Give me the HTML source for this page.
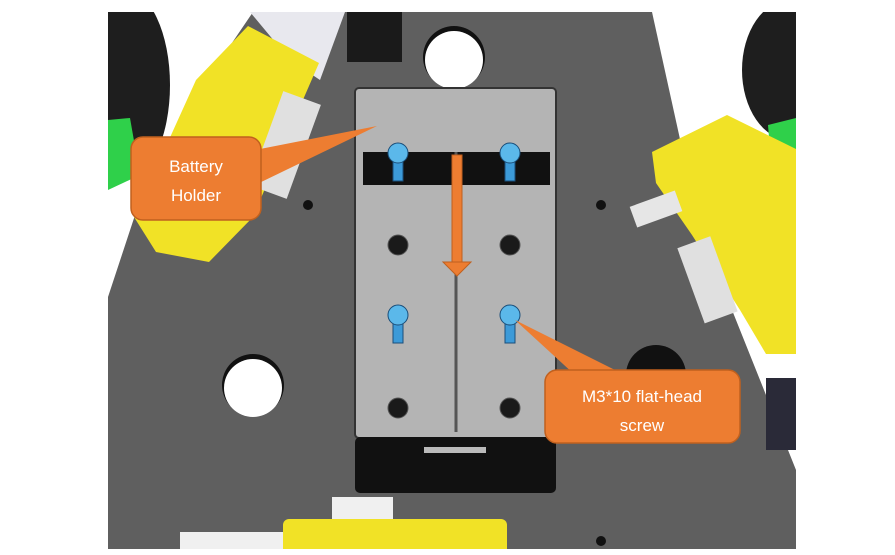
<!DOCTYPE html>
<html><head><meta charset="utf-8"><style>
html,body{margin:0;padding:0;background:#fff;width:895px;height:555px;overflow:hidden}
svg{display:block}
text{font-family:"Liberation Sans","Noto Sans CJK SC",sans-serif}
</style></head><body>
<svg width="895" height="555" viewBox="0 0 895 555">
<defs><clipPath id="frame"><rect x="108" y="12" width="688" height="537"/></clipPath></defs>
<rect x="0" y="0" width="895" height="555" fill="#fff"/>
<g clip-path="url(#frame)">
<g>
<rect x="108" y="12" width="688" height="537" fill="#5f5f5f"/>
<polygon points="108,12 253,12 200,90 140,200 108,297" fill="#fff"/>
<polygon points="652,12 796,12 796,470 760,380 700,230" fill="#fff"/>
</g>
<g>
<circle cx="454" cy="57" r="31" fill="#111"/><circle cx="454" cy="60" r="29" fill="#fff"/>
<circle cx="253" cy="385" r="31" fill="#111"/><circle cx="253" cy="388" r="29" fill="#fff"/>
<circle cx="656" cy="375" r="30" fill="#111"/>
<circle cx="308" cy="205" r="5" fill="#111"/><circle cx="601" cy="205" r="5" fill="#111"/><circle cx="601" cy="541" r="5" fill="#111"/>
</g>
<g>
<ellipse cx="125" cy="85" rx="45" ry="95" fill="#1e1e1e"/>
<polygon points="108,120 130,118 140,175 108,190" fill="#2fd04a"/>
</g>
<g>
<ellipse cx="790" cy="70" rx="48" ry="70" fill="#1e1e1e"/>
<polygon points="768,125 796,118 796,170 772,175" fill="#2fd04a"/>
</g>
<polygon points="250,12 345,12 320,80 290,60" fill="#e8e8ee"/>
<rect x="347" y="12" width="55" height="50" fill="#1a1a1a"/>
<polygon points="248,26 319,63 292,125 253,217 209,262 156,252 134,217 196,80" fill="#f1e226"/>
<rect x="265" y="95" width="40" height="100" fill="#e0e0e0" transform="rotate(20 285 145)"/>
<polygon points="652,152 727,115 796,149 796,354 766,354 740,310 692,235 656,183" fill="#f1e226"/>
<rect x="690" y="240" width="35" height="80" fill="#e0e0e0" transform="rotate(-20 707 280)"/>
<rect x="632" y="198" width="48" height="22" fill="#e6e6e6" transform="rotate(-20 656 209)"/>
<rect x="766" y="378" width="30" height="72" fill="#2a2a38"/>
<g>
<rect x="180" y="532" width="103" height="17" fill="#f0f0f0"/>
<rect x="332" y="497" width="61" height="22" fill="#f0f0f0"/>
<rect x="283" y="519" width="224" height="36" rx="6" fill="#f1e226"/>
</g>
</g>
<g>
<rect x="355" y="88" width="201" height="350" rx="4" fill="#b4b4b4" stroke="#333" stroke-width="2"/>
<rect x="363" y="152" width="187" height="33" fill="#111"/>
<line x1="456" y1="152" x2="456" y2="432" stroke="#555" stroke-width="3"/>
<rect x="355" y="437" width="201" height="56" rx="5" fill="#111"/>
<rect x="424" y="447" width="62" height="6" fill="#bbb"/>
<g fill="#1a1a1a" stroke="#555">
<circle cx="398" cy="245" r="10"/><circle cx="510" cy="245" r="10"/><circle cx="398" cy="408" r="10"/><circle cx="510" cy="408" r="10"/>
</g>
</g>
<g fill="#5bb8ea" stroke="#1a4e7a">
<rect x="393" y="155" width="10" height="26" fill="#3c9ad8"/><circle cx="398" cy="153" r="10"/>
<rect x="505" y="155" width="10" height="26" fill="#3c9ad8"/><circle cx="510" cy="153" r="10"/>
<rect x="393" y="317" width="10" height="26" fill="#3c9ad8"/><circle cx="398" cy="315" r="10"/>
<rect x="505" y="317" width="10" height="26" fill="#3c9ad8"/><circle cx="510" cy="315" r="10"/>
</g>
<g>
<rect x="452" y="155" width="10" height="107" fill="#ed7d31" stroke="#c0601e"/>
<polygon points="443,262 471,262 457,276" fill="#ed7d31" stroke="#c0601e"/>
</g>
<g>
<polygon points="255,150 377,126 255,185" fill="#ed7d31"/>
<rect x="131" y="137" width="130" height="83" rx="12" fill="#ed7d31" stroke="#c0601e" stroke-width="1.5"/>
<text x="196" y="172" font-size="17" fill="#fff" text-anchor="middle">Battery</text>
<text x="196" y="201" font-size="17" fill="#fff" text-anchor="middle">Holder</text>
</g>
<g>
<polygon points="515,320 575,375 625,375" fill="#ed7d31"/>
<rect x="545" y="370" width="195" height="73" rx="12" fill="#ed7d31" stroke="#c0601e" stroke-width="1.5"/>
<text x="642" y="402" font-size="17" fill="#fff" text-anchor="middle">M3*10 flat-head</text>
<text x="642" y="431" font-size="17" fill="#fff" text-anchor="middle">screw</text>
</g>
</svg>
</body></html>
